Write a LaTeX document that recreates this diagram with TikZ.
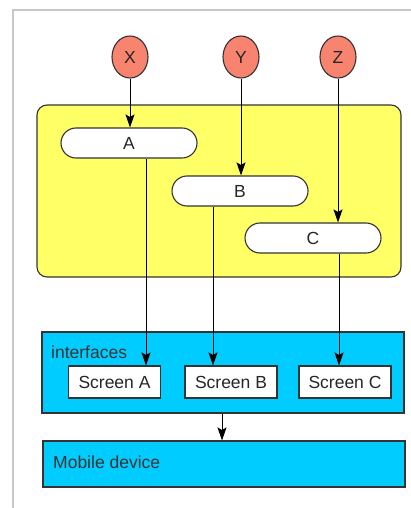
\documentclass[tikz,border=0pt]{standalone}
\usepackage{fontspec}
\setmainfont{Liberation Sans}
\usetikzlibrary{arrows.meta,calc,shapes.geometric}
\definecolor{salmonc}{HTML}{F8846F}
\definecolor{yel}{HTML}{FFFF66}
\definecolor{cyanc}{HTML}{00CCFF}
\definecolor{bord}{HTML}{333333}
\definecolor{frame}{HTML}{C8C8C8}
\tikzset{
  circ/.style={ellipse, draw=bord, line width=1.1pt, fill=salmonc, minimum width=36pt, minimum height=42pt, inner sep=0pt},
  pill/.style={draw=bord, line width=1.1pt, fill=white, rounded corners=15pt, minimum width=136pt, minimum height=30pt, inner sep=0pt},
  scr/.style={draw=bord, line width=1.1pt, fill=white, minimum width=92pt, minimum height=32pt, inner sep=0pt},
  grp/.style={draw=bord, line width=1.1pt, fill=yel, rounded corners=10pt, inner sep=0pt},
  bluebox/.style={draw=bord, line width=1.1pt, fill=cyanc, inner sep=0pt},
  arr/.style={draw=black, line width=1pt, -{Stealth[length=13pt,width=9pt,inset=2.5pt]}},
  lab/.style={anchor=west, inner sep=0pt, text=bord}
}
\begin{document}
\begin{tikzpicture}[x=1pt,y=-1pt, font=\fontsize{17.5}{20}\selectfont, text=black!85]
\useasboundingbox (0,0) rectangle (411,508);
\fill[white] (0,0) rectangle (411,508);
\draw[frame, line width=2pt] (13,508) -- (13,10) -- (411,10);
% group boxes
\node[grp, minimum width=364pt, minimum height=172pt] (G) at (219,191) {};
\node[bluebox, minimum width=362pt, minimum height=81pt] (I) at (223,372.5) {};
\node[bluebox, minimum width=362pt, minimum height=46pt] (M) at (224,464) {};
\node[lab] (Ilab) at (51,352) {interfaces};
\node[lab] (Mlab) at (53,462) {Mobile device};
% circles
\node[circ] (X) at (130,57) {X};
\node[circ] (Y) at (241,57) {Y};
\node[circ] (Z) at (338,57) {Z};
% pills
\node[pill] (A) at (129,143) {A};
\node[pill] (B) at (240,191) {B};
\node[pill] (C) at (313,238) {C};
% screens
\node[scr] (SA) at (114.5,382) {Screen A};
\node[scr] (SB) at (231,382) {Screen B};
\node[scr] (SC) at (345,382) {Screen C};
% x positions of connectors
\coordinate (xa) at (146,0);
\coordinate (xb) at (213,0);
\coordinate (xc) at (339,0);
\coordinate (xm) at (222,0);
% connectors
\draw[arr] (X.south) -- (X.south |- A.north);
\draw[arr] (Y.south) -- (Y.south |- B.north);
\draw[arr] (Z.south) -- (Z.south |- C.north);
\draw[arr] (A.south -| xa) -- (xa |- SA.north);
\draw[arr] (B.south -| xb) -- (xb |- SB.north);
\draw[arr] (C.south -| xc) -- (xc |- SC.north);
\draw[arr] (I.south -| xm) -- (xm |- M.north);
\end{tikzpicture}
\end{document}
